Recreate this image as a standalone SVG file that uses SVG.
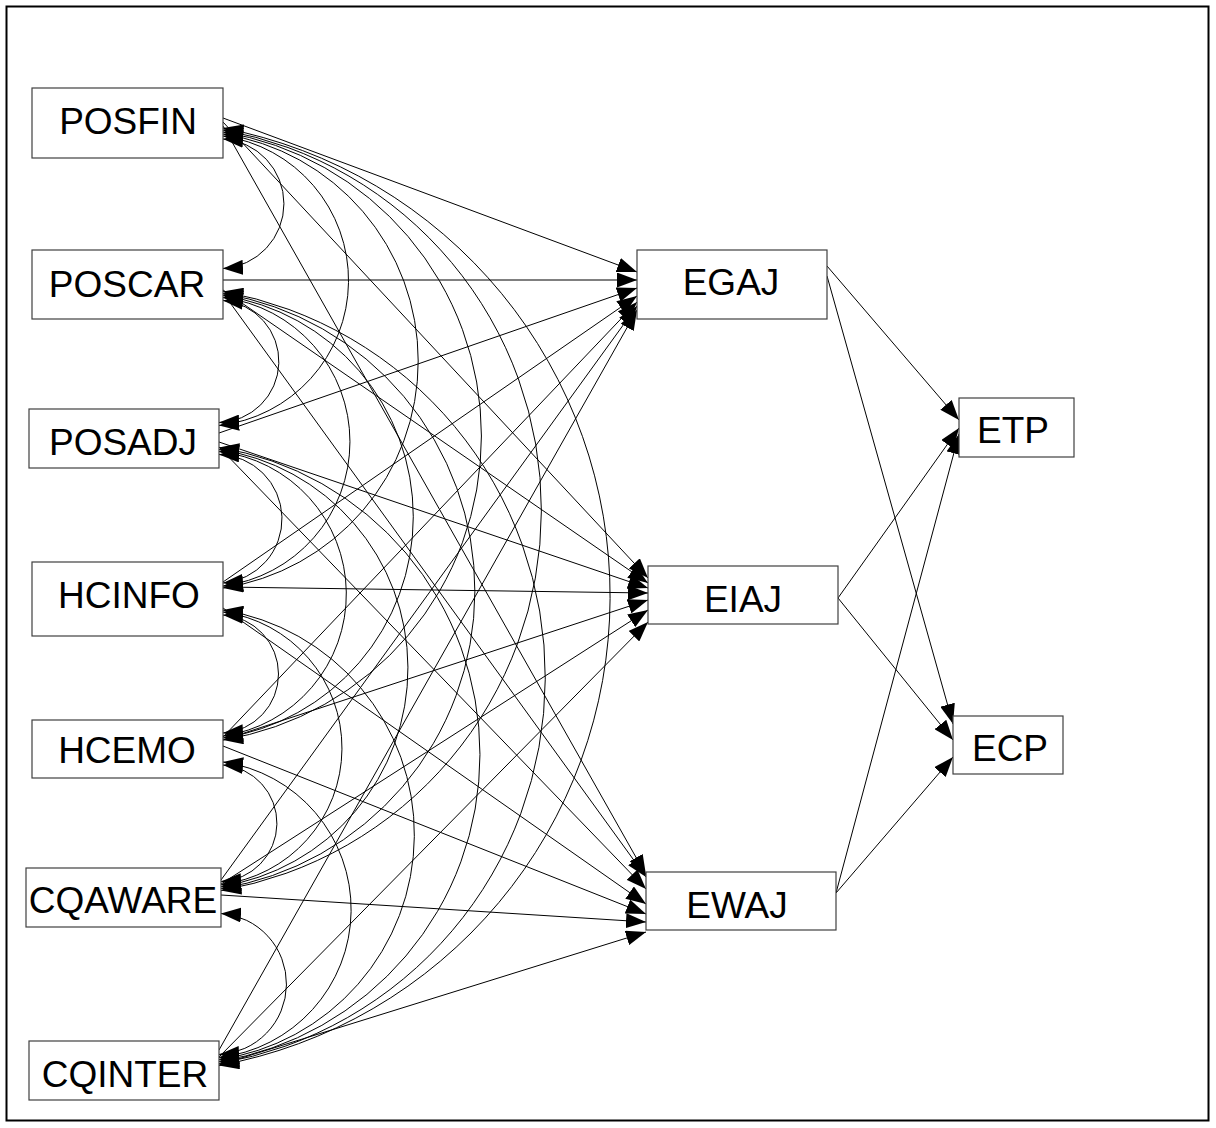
<svg xmlns="http://www.w3.org/2000/svg" width="1216" height="1128" viewBox="0 0 1216 1128">
  <style>
    .box { fill: #ffffff; stroke: #404040; stroke-width: 1.2; }
    .lbl { font-family: "Liberation Sans", Arial, sans-serif; font-size: 37px; fill: #000000; text-anchor: middle; }
    .path { fill: none; stroke: #000000; stroke-width: 1; marker-end: url(#head); }
    .cov { fill: none; stroke: #000000; stroke-width: 1; marker-start: url(#head); marker-end: url(#head); }
  </style>
  <defs>
    <marker id="head" viewBox="0 0 20 15" markerWidth="20" markerHeight="15" refX="20" refY="7.5" orient="auto-start-reverse" markerUnits="userSpaceOnUse">
      <path d="M0,0 L20,7.5 L0,15 z" fill="#000000"/>
    </marker>
  </defs>

  <rect x="0" y="0" width="1216" height="1128" fill="#ffffff"/>
  <rect x="6.5" y="6.5" width="1202" height="1114" fill="none" stroke="#000000" stroke-width="2"/>

  <!-- connectors: covariances among exogenous variables, then regression paths -->
  <g id="connectors">
    <!-- adjacent pairs -->
    <path class="cov" d="M223,139 A64.87,64.87 0 0 1 223,268.5"/>
    <path class="cov" d="M223,300.5 A61.12,61.12 0 0 1 219,422.5"/>
    <path class="cov" d="M219,454.5 A64.37,64.37 0 0 1 223,583"/>
    <path class="cov" d="M223,615 A59.11,59.11 0 0 1 223,733"/>
    <path class="cov" d="M223,765 A58.36,58.36 0 0 1 221,881.5"/>
    <path class="cov" d="M221,913.5 A70.63,70.63 0 0 1 219,1054.5"/>
    <!-- two apart -->
    <path class="cov" d="M223,136 A145.93,145.93 0 0 1 219,425.5"/>
    <path class="cov" d="M223,297.5 A145.43,145.43 0 0 1 223,586"/>
    <path class="cov" d="M219,451.5 A143.41,143.41 0 0 1 223,736"/>
    <path class="cov" d="M223,612 A137.36,137.36 0 0 1 221,884.5"/>
    <path class="cov" d="M223,762 A148.96,148.96 0 0 1 219,1057.5"/>
    <!-- three apart -->
    <path class="cov" d="M223,134 A229.59,229.59 0 0 1 223,588"/>
    <path class="cov" d="M223,295.5 A223.77,223.77 0 0 1 223,738"/>
    <path class="cov" d="M219,449.5 A220.99,220.99 0 0 1 221,886.5"/>
    <path class="cov" d="M223,610 A227.31,227.31 0 0 1 219,1059.5"/>
    <!-- four apart -->
    <path class="cov" d="M223,132 A308.02,308.02 0 0 1 223,740"/>
    <path class="cov" d="M223,293.5 A301.44,301.44 0 0 1 221,888.5"/>
    <path class="cov" d="M219,447.5 A311.06,311.06 0 0 1 219,1061.5"/>
    <!-- five and six apart -->
    <path class="cov" d="M223,130 A386.05,386.05 0 0 1 221,890.5"/>
    <path class="cov" d="M223,291.5 A391.88,391.88 0 0 1 219,1063.5"/>
    <path class="cov" d="M223,128 A476.91,476.91 0 0 1 219,1065.5"/>

    <!-- exogenous to EGAJ -->
    <path class="path" d="M223,118 L637,272"/>
    <path class="path" d="M223,280 L637,280"/>
    <path class="path" d="M219,433 L637,288"/>
    <path class="path" d="M223,582 L637,296"/>
    <path class="path" d="M223,737 L637,302"/>
    <path class="path" d="M221,880 L637,306"/>
    <path class="path" d="M219,1050 L637,310"/>
    <!-- exogenous to EIAJ -->
    <path class="path" d="M223,122 L648,578"/>
    <path class="path" d="M223,290 L648,583"/>
    <path class="path" d="M219,442 L648,588"/>
    <path class="path" d="M223,587 L648,593"/>
    <path class="path" d="M223,740 L648,600"/>
    <path class="path" d="M221,884 L648,610"/>
    <path class="path" d="M219,1057 L648,622"/>
    <!-- exogenous to EWAJ -->
    <path class="path" d="M223,126 L646,875"/>
    <path class="path" d="M223,293 L646,877"/>
    <path class="path" d="M219,447 L646,889"/>
    <path class="path" d="M223,608 L646,904"/>
    <path class="path" d="M223,746 L646,914"/>
    <path class="path" d="M221,895 L646,922"/>
    <path class="path" d="M219,1065 L646,932"/>

    <!-- mediators to outcomes -->
    <path class="path" d="M827,266 L959,420"/>
    <path class="path" d="M827,276 L953,724"/>
    <path class="path" d="M838,598 L959,428"/>
    <path class="path" d="M838,598 L953,740"/>
    <path class="path" d="M836,893 L959,434"/>
    <path class="path" d="M836,893 L953,757"/>
  </g>

  <g id="POSFIN"><rect class="box" x="32" y="88" width="191" height="70"/><text class="lbl" x="128" y="134">POSFIN</text></g>
  <g id="POSCAR"><rect class="box" x="32" y="250" width="191" height="69"/><text class="lbl" x="127" y="297">POSCAR</text></g>
  <g id="POSADJ"><rect class="box" x="29" y="409" width="190" height="59"/><text class="lbl" x="123" y="455">POSADJ</text></g>
  <g id="HCINFO"><rect class="box" x="32" y="562" width="191" height="74"/><text class="lbl" x="129" y="608">HCINFO</text></g>
  <g id="HCEMO"><rect class="box" x="32" y="720" width="191" height="58"/><text class="lbl" x="127" y="763">HCEMO</text></g>
  <g id="CQAWARE"><rect class="box" x="26" y="868" width="195" height="59"/><text class="lbl" x="123" y="913">CQAWARE</text></g>
  <g id="CQINTER"><rect class="box" x="29" y="1041" width="190" height="59"/><text class="lbl" x="125" y="1087">CQINTER</text></g>

  <g id="EGAJ"><rect class="box" x="637" y="250" width="190" height="69"/><text class="lbl" x="731" y="295">EGAJ</text></g>
  <g id="EIAJ"><rect class="box" x="648" y="566" width="190" height="58"/><text class="lbl" x="743" y="612">EIAJ</text></g>
  <g id="EWAJ"><rect class="box" x="646" y="872" width="190" height="58"/><text class="lbl" x="737" y="918">EWAJ</text></g>

  <g id="ETP"><rect class="box" x="959" y="398" width="115" height="59"/><text class="lbl" x="1013" y="443">ETP</text></g>
  <g id="ECP"><rect class="box" x="953" y="716" width="110" height="58"/><text class="lbl" x="1010" y="761">ECP</text></g>
</svg>
